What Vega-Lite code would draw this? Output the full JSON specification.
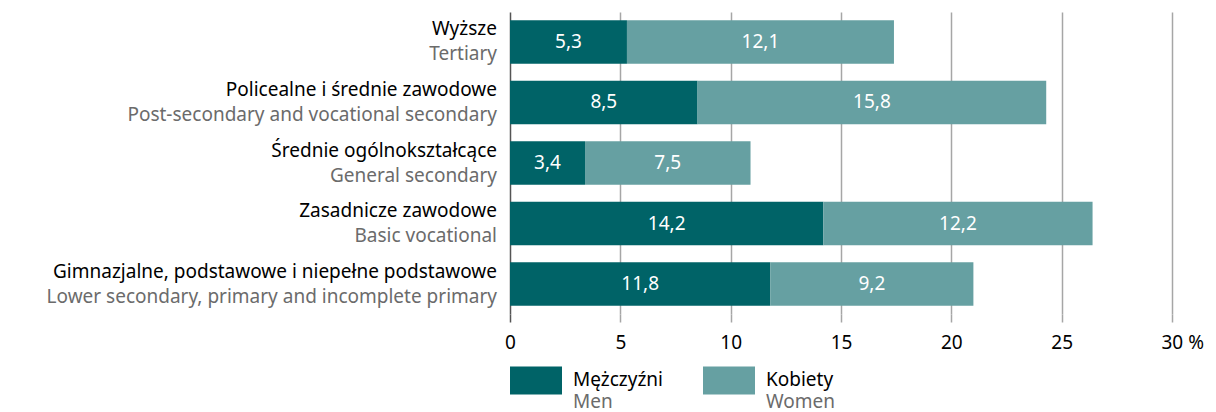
{
  "$schema": "https://vega.github.io/schema/vega-lite/v6.json",
  "width": 662,
  "height": 302,
  "autosize": {"type": "none"},
  "padding": {"left": 510, "top": 12, "right": 44, "bottom": 98},
  "config": {
    "font": "Noto Sans",
    "view": {"stroke": null},
    "locale": {"number": {"decimal": ",", "thousands": " ", "grouping": [3], "currency": ["", " zł"]}}
  },
  "data": {
    "values": [
      {"cat_pl": "Wyższe", "cat_en": "Tertiary", "sex": "Men", "sex_pl": "Mężczyźni", "value": 5.3},
      {"cat_pl": "Wyższe", "cat_en": "Tertiary", "sex": "Women", "sex_pl": "Kobiety", "value": 12.1},
      {"cat_pl": "Policealne i średnie zawodowe", "cat_en": "Post-secondary and vocational secondary", "sex": "Men", "sex_pl": "Mężczyźni", "value": 8.5},
      {"cat_pl": "Policealne i średnie zawodowe", "cat_en": "Post-secondary and vocational secondary", "sex": "Women", "sex_pl": "Kobiety", "value": 15.8},
      {"cat_pl": "Średnie ogólnokształcące", "cat_en": "General secondary", "sex": "Men", "sex_pl": "Mężczyźni", "value": 3.4},
      {"cat_pl": "Średnie ogólnokształcące", "cat_en": "General secondary", "sex": "Women", "sex_pl": "Kobiety", "value": 7.5},
      {"cat_pl": "Zasadnicze zawodowe", "cat_en": "Basic vocational", "sex": "Men", "sex_pl": "Mężczyźni", "value": 14.2},
      {"cat_pl": "Zasadnicze zawodowe", "cat_en": "Basic vocational", "sex": "Women", "sex_pl": "Kobiety", "value": 12.2},
      {"cat_pl": "Gimnazjalne, podstawowe i niepełne podstawowe", "cat_en": "Lower secondary, primary and incomplete primary", "sex": "Men", "sex_pl": "Mężczyźni", "value": 11.8},
      {"cat_pl": "Gimnazjalne, podstawowe i niepełne podstawowe", "cat_en": "Lower secondary, primary and incomplete primary", "sex": "Women", "sex_pl": "Kobiety", "value": 9.2}
    ]
  },
  "encoding": {
    "y": {
      "field": "cat_pl", "type": "nominal", "sort": null, "axis": null,
      "scale": {"paddingInner": 0.28, "paddingOuter": 0.135}
    }
  },
  "layer": [
    {
      "mark": {"type": "bar"},
      "encoding": {
        "x": {
          "field": "value", "type": "quantitative", "stack": "zero",
          "scale": {"domain": [0, 30], "nice": false},
          "axis": {
            "title": null,
            "values": [0, 5, 10, 15, 20, 25, 30],
            "format": "d",
            "labelExpr": "datum.value == 30 ? '30 %' : datum.label",
            "labelAlign": {"condition": {"test": "datum.value == 30", "value": "left"}, "value": "center"},
            "labelOffset": {"condition": {"test": "datum.value == 30", "value": -11}, "value": 0},
            "domain": false,
            "grid": true,
            "gridColor": {"condition": {"test": "datum.value == 0", "value": "#555555"}, "value": "#a6a6a6"},
            "gridWidth": 1.5,
            "tickColor": {"condition": {"test": "datum.value == 0", "value": "#555555"}, "value": "#a6a6a6"},
            "tickWidth": 1.5,
            "tickSize": 8,
            "labelPadding": 11,
            "labelFontSize": 19,
            "labelColor": "#000000",
            "labelFont": "Noto Sans"
          }
        },
        "color": {
          "field": "sex_pl", "type": "nominal",
          "scale": {"domain": ["Mężczyźni", "Kobiety"], "range": ["#006367", "#66a0a2"]},
          "legend": {
            "orient": "none", "legendX": 0, "legendY": 342,
            "direction": "horizontal", "columns": 2, "title": null,
            "symbolType": "M-1,-0.54H1V0.54H-1Z", "symbolSize": 2704, "symbolStrokeWidth": 0,
            "labelFontSize": 19, "labelColor": "#000000", "labelOffset": 11,
            "columnPadding": 39, "labelFont": "Noto Sans"
          }
        },
        "order": {"field": "sex", "sort": "ascending"}
      }
    },
    {
      "mark": {"type": "text", "fill": "#ffffff", "strokeOpacity": 0, "fontSize": 19},
      "encoding": {
        "x": {"field": "value", "type": "quantitative", "stack": "zero", "bandPosition": 0.5},
        "text": {"field": "value", "type": "quantitative", "format": ".1f"},
        "stroke": {
          "field": "sex", "type": "nominal",
          "scale": {"domain": ["Men", "Women"], "range": ["#000000", "#000000"]},
          "legend": {
            "orient": "none", "legendX": 0, "legendY": 364,
            "direction": "horizontal", "columns": 2, "title": null,
            "symbolType": "M-1,-0.54H1V0.54H-1Z", "symbolSize": 2704, "symbolOpacity": 0, "symbolStrokeWidth": 0,
            "labelFontSize": 19, "labelColor": "#6b6b6b", "labelOffset": 11,
            "columnPadding": 90, "labelFont": "Noto Sans"
          }
        },
        "order": {"field": "sex", "sort": "ascending"}
      }
    },
    {
      "transform": [{"filter": "datum.sex == 'Men'"}],
      "mark": {"type": "text", "align": "right", "dx": -13, "dy": -12.5, "fontSize": 19, "fill": "#000000"},
      "encoding": {
        "x": {"datum": 0},
        "text": {"field": "cat_pl"}
      }
    },
    {
      "transform": [{"filter": "datum.sex == 'Men'"}],
      "mark": {"type": "text", "align": "right", "dx": -13, "dy": 12.5, "fontSize": 19, "fill": "#6b6b6b"},
      "encoding": {
        "x": {"datum": 0},
        "text": {"field": "cat_en"}
      }
    }
  ]
}
